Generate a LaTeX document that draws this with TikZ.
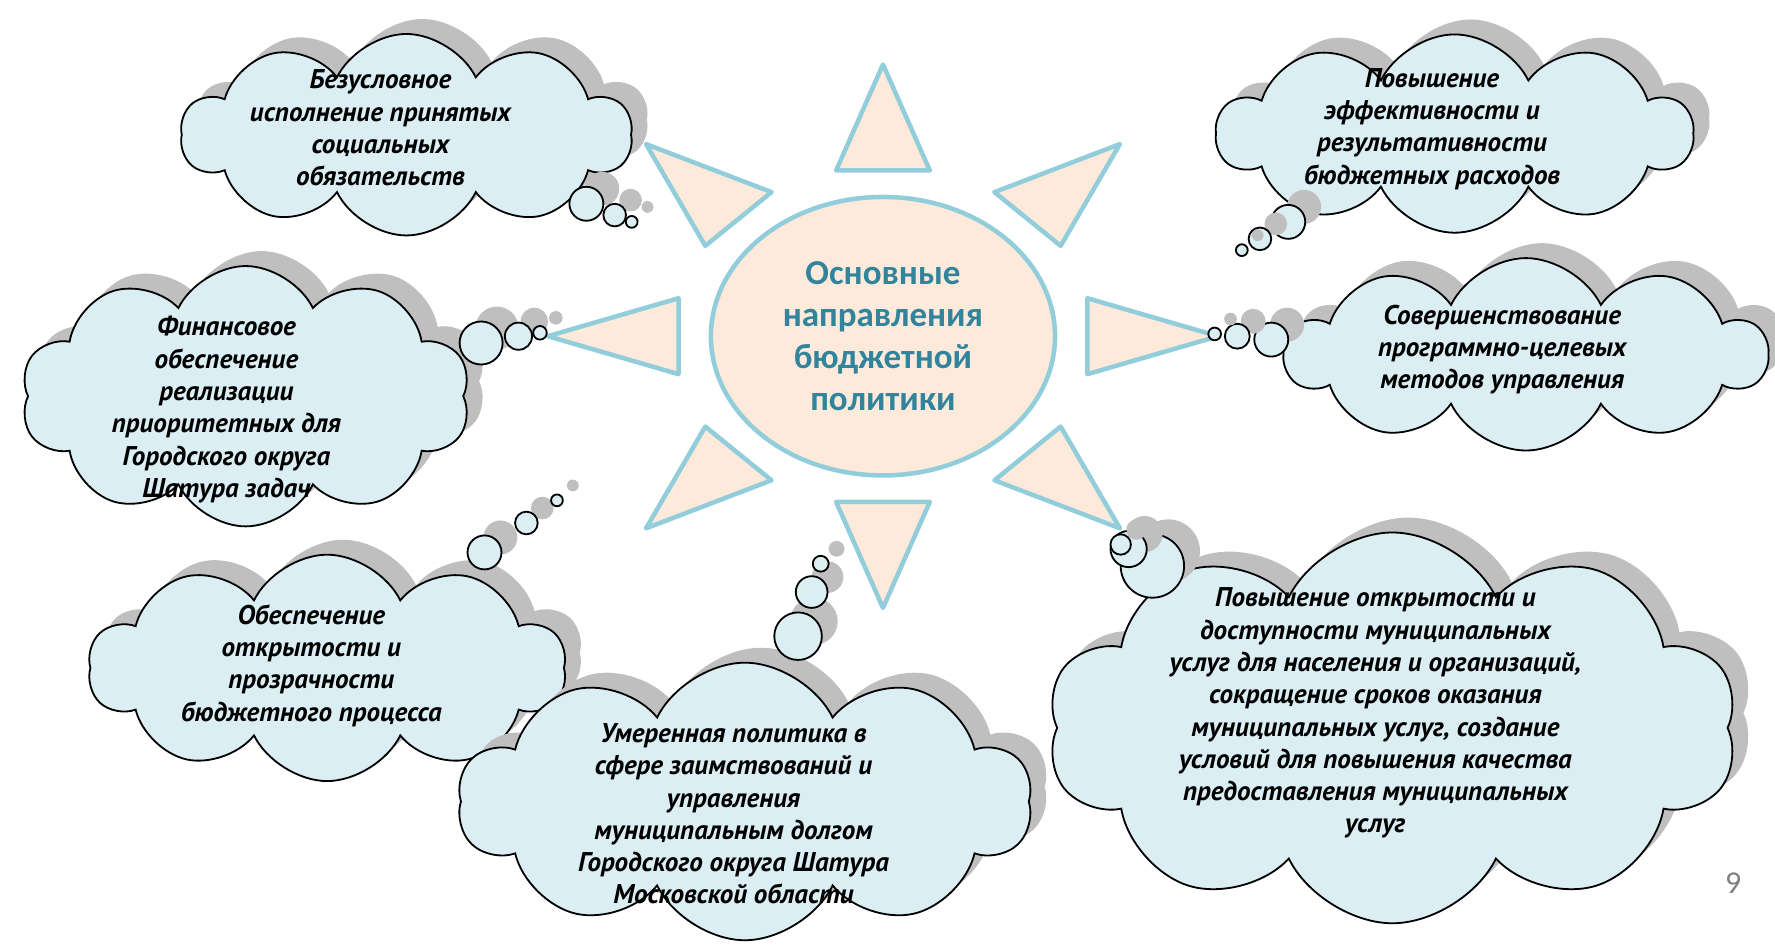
\documentclass[tikz,border=0pt]{standalone}
\usepackage{fontspec}
\setmainfont{Carlito}
\newfontfamily\sayfont{PT Sans}
\usetikzlibrary{shapes.geometric,shapes.symbols,shadows}
\definecolor{raybg}{HTML}{FDEADA}
\definecolor{rayline}{HTML}{92CDDC}
\definecolor{cloudbg}{HTML}{DAEEF3}
\definecolor{shadowgray}{HTML}{BFBFBF}
\definecolor{hubtext}{HTML}{31849B}

\begin{document}
\begin{tikzpicture}[x=0.25mm,y=-0.25mm,
  ray/.style={draw=rayline,fill=raybg,line width=1mm,line join=round},
  grayshadow/.style={drop shadow={shadow xshift=3.5mm,shadow yshift=3.3mm,fill=shadowgray,opacity=1}},
  cloudbox/.style={cloud,cloud puffs=10,cloud puff arc=128,cloud ignores aspect,draw=black,line width=0.4mm,fill=cloudbg,grayshadow},
  bubble/.style={circle,draw=black,line width=0.4mm,fill=cloudbg,inner sep=0pt,grayshadow},
  say/.style={align=center,font=\sayfont\bfseries\itshape\fontsize{17}{20.3}\selectfont}]
\useasboundingbox (0,0) rectangle (1568,839);

\begin{scope}[shift={(780,297)},xscale=296,yscale=240]
\foreach \a in {0,45,...,315}
  \draw[ray] (\a:1) -- (\a+12.9:0.626) -- (\a-12.9:0.626) -- cycle;
\end{scope}
\node[ellipse,draw=rayline,fill=raybg,line width=1mm,minimum width=76mm,minimum height=61.5mm,
  align=center,text=hubtext,font=\bfseries\fontsize{22}{26.3}\selectfont] (hub) at (780,297)
  {Основные\\направления\\бюджетной\\политики};

\node[cloudbox,minimum width=99.5mm,minimum height=44.5mm] (c1) at (359,119) {};
\node[say] (t1) at (336,113) {Безусловное\\исполнение принятых\\социальных\\обязательств};
\node[cloudbox,minimum width=105mm,minimum height=43.8mm] (c2) at (1285,118) {};
\node[say] (t2) at (1265,114) {Повышение\\эффективности и\\результативности\\бюджетных расходов};
\node[cloudbox,minimum width=99.3mm,minimum height=57.5mm] (c3) at (217,350) {};
\node[say] (t3) at (200,362) {Финансовое\\обеспечение\\реализации\\приоритетных для\\Городского округа\\Шатура задач};
\node[cloudbox,minimum width=106.3mm,minimum height=42.5mm] (c4) at (1348,313) {};
\node[say] (t4) at (1327,309) {Совершенствование\\программно-целевых\\методов управления};
\node[cloudbox,minimum width=105.5mm,minimum height=50mm] (c5) at (289,590) {};
\node[say] (t5) at (275,588) {Обеспечение\\открытости и\\прозрачности\\бюджетного процесса};
\node[cloudbox,minimum width=126.8mm,minimum height=61.3mm] (c6) at (658,708) {};
\node[say] (t6) at (648,719) {Умеренная политика в\\сфере заимствований и\\управления\\муниципальным долгом\\Городского округа Шатура\\Московской области};
\node[cloudbox,minimum width=152.5mm,minimum height=86.3mm] (c7) at (1230,643) {};
\node[say] (t7) at (1215,630) {Повышение открытости и\\доступности муниципальных\\услуг для населения и организаций,\\сокращение сроков оказания\\муниципальных услуг, создание\\условий для повышения качества\\предоставления муниципальных\\услуг};

\node[bubble,minimum size=7.5mm] (b1a) at (518,180) {};
\node[bubble,minimum size=5mm] (b1b) at (543,190) {};
\node[bubble,minimum size=2.6mm] (b1c) at (558,196) {};
\node[bubble,minimum size=7.5mm] (b2a) at (1138,196) {};
\node[bubble,minimum size=5mm] (b2b) at (1113,211) {};
\node[bubble,minimum size=2.6mm] (b2c) at (1097,221) {};
\node[bubble,minimum size=9.5mm] (b3a) at (425,303) {};
\node[bubble,minimum size=6mm] (b3b) at (458,297) {};
\node[bubble,minimum size=3mm] (b3c) at (477,294) {};
\node[bubble,minimum size=7.5mm] (b4a) at (1123,300) {};
\node[bubble,minimum size=5.5mm] (b4b) at (1093,297) {};
\node[bubble,minimum size=2.8mm] (b4c) at (1073,295) {};
\node[bubble,minimum size=7.5mm] (b5a) at (428,488) {};
\node[bubble,minimum size=5mm] (b5b) at (465,462) {};
\node[bubble,minimum size=2.6mm] (b5c) at (492,442) {};
\node[bubble,minimum size=10.5mm] (b6a) at (705,562) {};
\node[bubble,minimum size=7mm] (b6b) at (717,523) {};
\node[bubble,minimum size=3.5mm] (b6c) at (725,498) {};
\node[bubble,minimum size=14mm] (b7a) at (1018,500) {};
\node[bubble,minimum size=8mm] (b7b) at (997,485) {};
\node[bubble,minimum size=4.5mm] (b7c) at (990,481) {};

\node[text=gray,font=\fontsize{20}{24}\selectfont] (pg) at (1531,780) {9};
\end{tikzpicture}
\end{document}
